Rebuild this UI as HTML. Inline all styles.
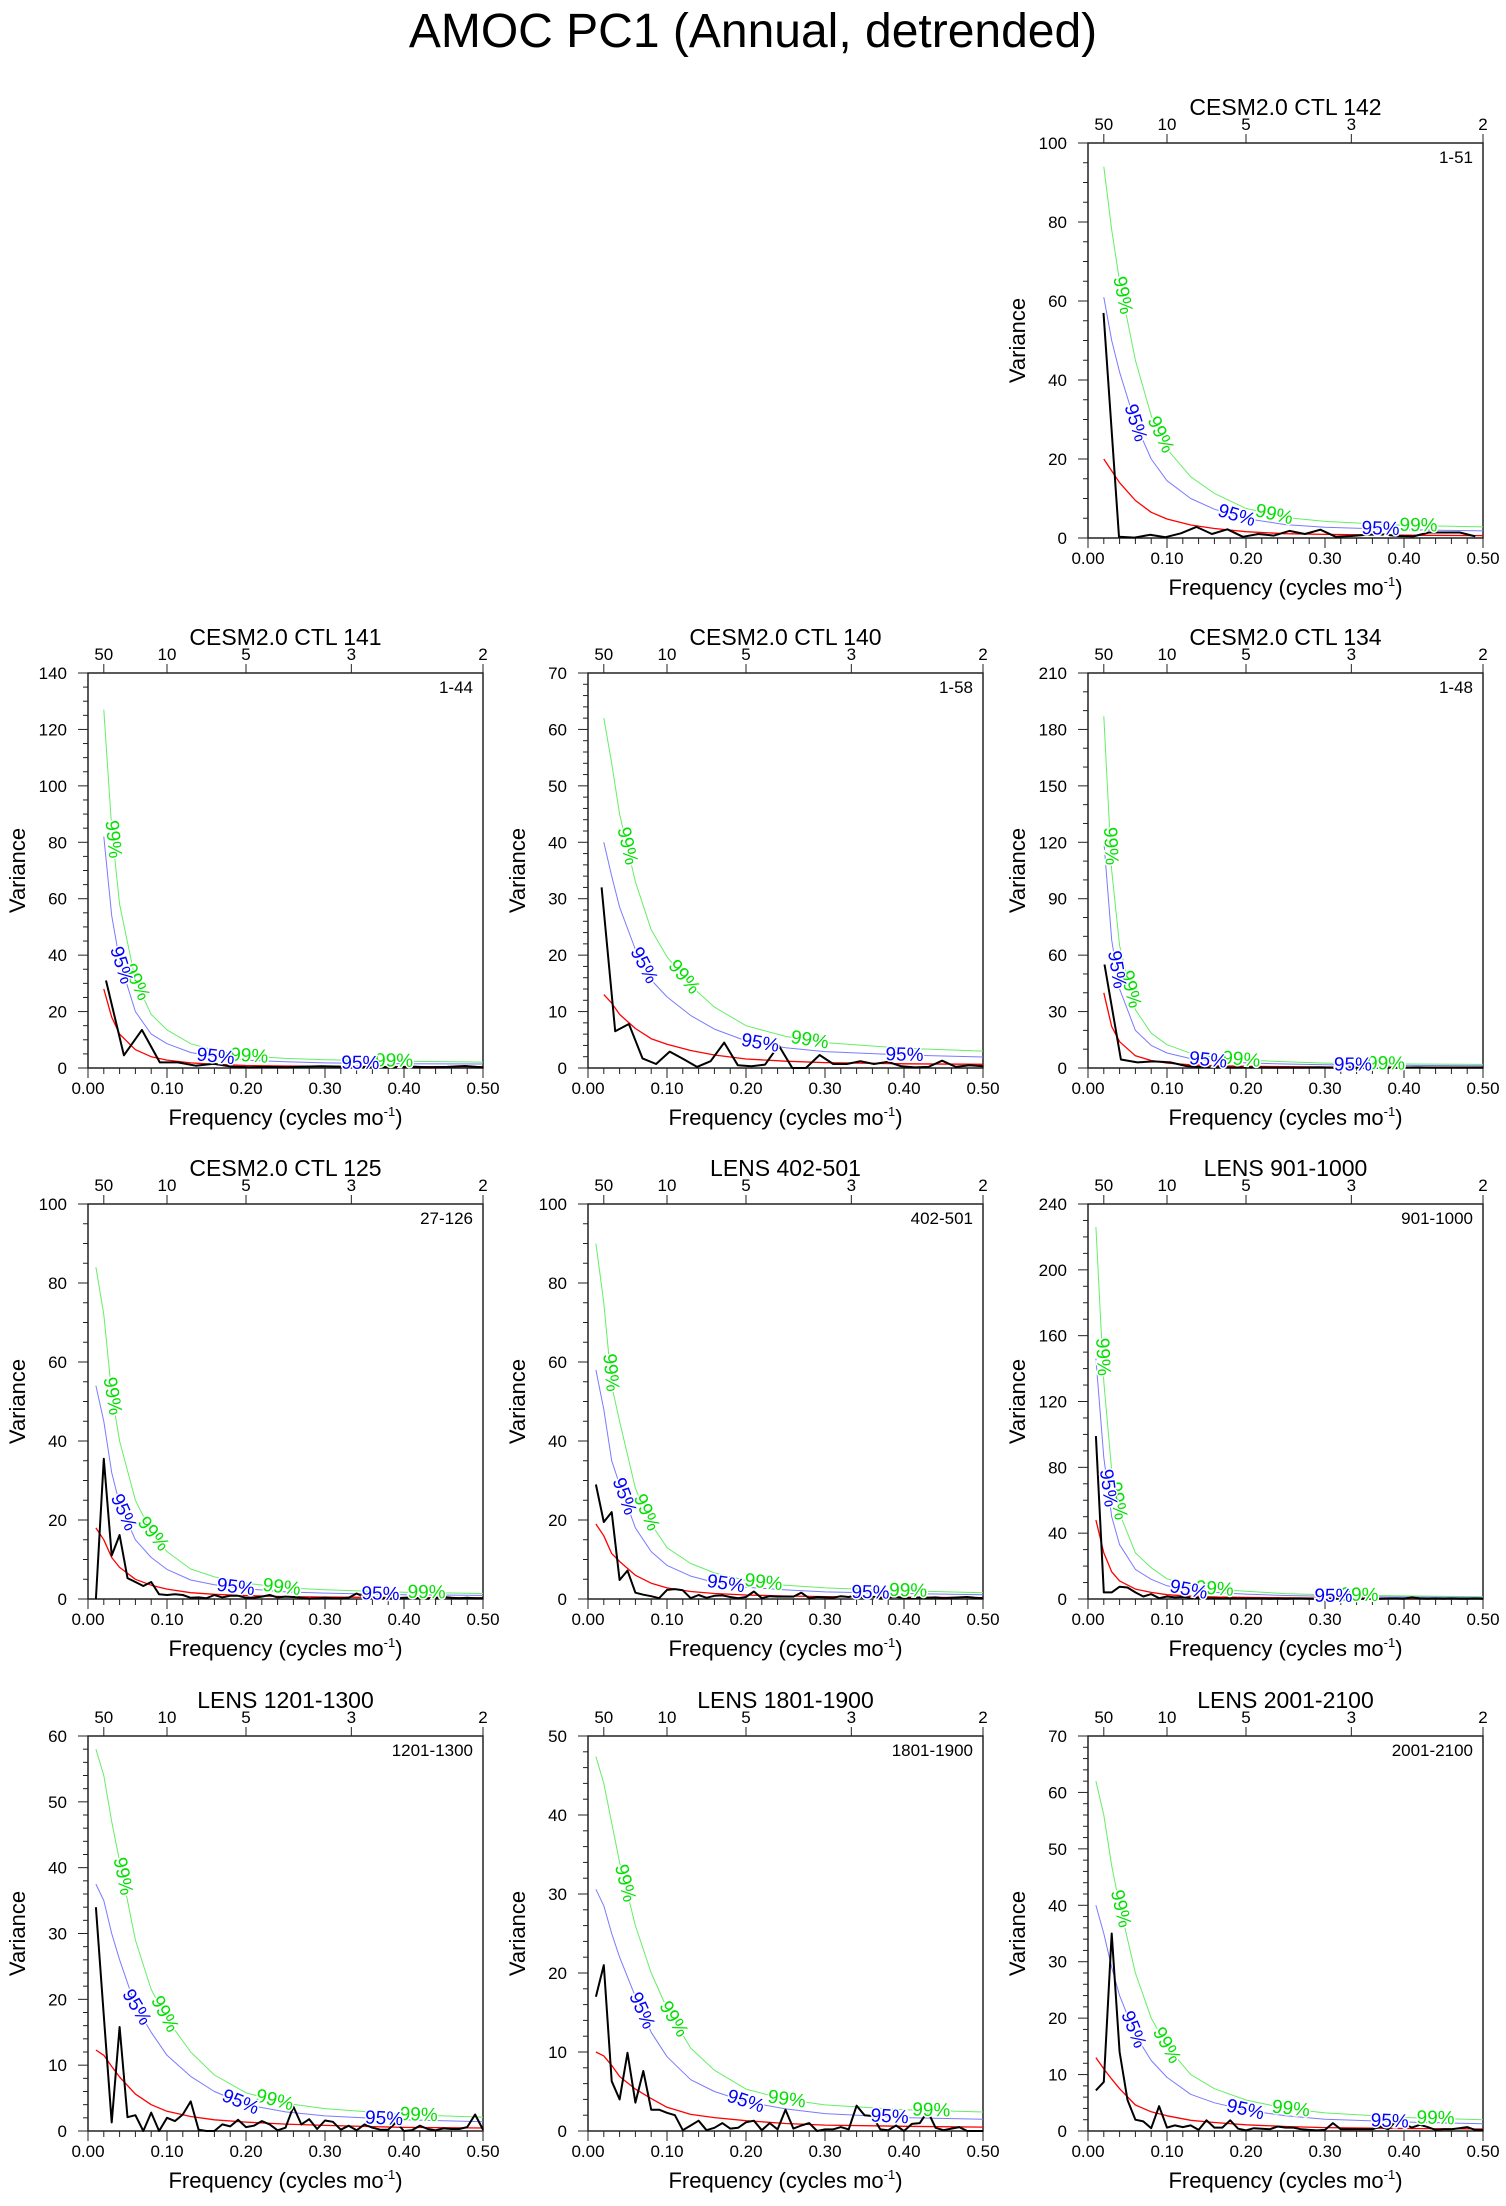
<!DOCTYPE html>
<html>
<head>
<meta charset="utf-8">
<style>
  html,body{margin:0;padding:0;background:#fff;}
  body{width:1506px;height:2201px;overflow:hidden;font-family:"Liberation Sans",sans-serif;}
  svg text{font-family:"Liberation Sans",sans-serif;}
</style>
</head>
<body>
<svg id="chart" width="1506" height="2201" viewBox="0 0 1506 2201" xmlns="http://www.w3.org/2000/svg">
  <text x="753" y="47" font-size="48" text-anchor="middle" fill="#000">AMOC PC1 (Annual, detrended)</text>
  <g id="panels"></g>
</svg>
<script>
// Shared frequency grid for red-noise / significance curves
const curveFreq = [0.01,0.02,0.03,0.04,0.06,0.08,0.10,0.13,0.16,0.20,0.25,0.30,0.40,0.50];
const xTickLabels = ["0.00","0.10","0.20","0.30","0.40","0.50"];
const xTickValues = [0,0.1,0.2,0.3,0.4,0.5];
const periodLabels = ["50","10","5","3","2"];
const periodValues = [50,10,5,3,2];

// CESM2.0 CTL 142
const p142_black = [57,0.3,0.1,0.8,0.2,1.2,2.8,1,2.2,0.3,1,0.6,1.8,1,2.1,0.3,0.5,0.8,0.9,0.5,0.4,1.4,1.4,1.4,0.4];
const p142_red = [null,20,17,14,9.5,6.5,4.8,3.3,2.4,1.6,1.1,0.9,0.7,0.6];
const p142_c95 = [null,61,50,42,29,20,14.5,10,7.3,4.9,3.4,2.7,2.1,1.8];
const p142_c99 = [null,94,78,65,45,31,22.5,15.5,11.3,7.5,5.2,4.2,3.2,2.8];
// CESM2.0 CTL 141
const p141_black = [31,4.5,13.5,2,2,0.8,1.5,0.5,0.3,0.4,0.3,0.5,0.6,0.5,0.3,0.4,0.3,0.5,0.3,0.4,0.7,0.2];
const p141_red = [null,28,18,12,6.5,4,2.8,1.8,1.3,0.9,0.7,0.6,0.5,0.45];
const p141_c95 = [null,82,54,38,20,12,8.6,5.5,4,2.8,2.2,1.8,1.5,1.4];
const p141_c99 = [null,127,85,58,31,19,13.5,8.6,6.3,4.3,3.4,2.9,2.4,2.1];
// CESM2.0 CTL 140
const p140_black = [32,6.5,7.8,1.7,0.7,2.9,1.6,0.2,1.2,4.5,0.5,0.3,0.6,4,0,0,2.3,0.7,0.7,1.2,0.7,1.1,0.3,0.1,0.2,1.3,0.2,0.5,0.3];
const p140_red = [null,13,11.5,9.5,7,5.2,4.2,3.1,2.3,1.6,1.2,0.95,0.75,0.65];
const p140_c95 = [null,40,34,28.5,21,15.6,12.6,9.3,6.9,4.8,3.6,2.9,2.3,1.95];
const p140_c99 = [null,62,54,45,33,24.5,19.7,14.6,10.8,7.5,5.6,4.5,3.5,3.0];
// CESM2.0 CTL 134
const p134_black = [55,4.5,3,3.5,3,1,0.5,0.3,0.2,0.3,0.2,0.2,0.2,0.3,0.2,0.2,0.3,0.2,0.2,0.3,0.2,0.2,0.2,0.2];
const p134_red = [null,40,22,14,6.5,4,2.6,1.7,1.2,0.9,0.7,0.55,0.45,0.4];
const p134_c95 = [null,121,68,42,20,12,8,5,3.7,2.7,2.1,1.7,1.4,1.2];
const p134_c99 = [null,187,105,65,31,18.5,12.4,7.8,5.7,4.2,3.3,2.6,2.1,1.9];
// CESM2.0 CTL 125
const p125_black = [0,35.5,11,16.2,5.3,4.3,3.3,4.3,1.2,1,1.2,1,0.3,0.4,0.2,1,0.4,0.8,0.8,0.3,0.3,0.6,1,0.4,0.6,0.5,0.3,0.1,0.2,0.3,0.2,0.2,0.3,1.4,0.5,0.3,0.2,0.1,0.2,0.3,0.4,0.2,0.1,0.3,0.5,0.3,0.2,0.3,0.2,0.2];
const p125_red = [18,15,10.5,8,5,3.5,2.5,1.6,1.2,0.85,0.6,0.5,0.35,0.3];
const p125_c95 = [54,45,32,24,15,10.5,7.5,4.8,3.6,2.6,1.8,1.5,1.1,0.9];
const p125_c99 = [84,72,52,40,25,17,12,7.6,5.6,4,2.8,2.35,1.7,1.4];
// LENS 402-501
const p402_black = [29,19.5,22,4.8,7.2,1.6,1.1,0.7,0.2,2.3,2.5,2.2,0.2,1,0.3,0.8,0.9,0.5,0.2,0.5,1.9,0.2,0.7,0.6,0.6,0.6,1.6,0.2,0.5,0.4,0.3,0.7,0.5,0.9,0.2,0.6,0.3,0.4,0.5,0.3,0.2,0.4,0.3,0.4,0.2,0.3,0.4,0.5,0.3,0.2];
const p402_red = [19,16,11.5,9.5,6,4,2.8,1.9,1.4,1.0,0.75,0.6,0.45,0.35];
const p402_c95 = [58,48,35,29,18,12,8.5,5.8,4.2,3,2.3,1.8,1.4,1.1];
const p402_c99 = [90,75,54,45,28,19,13,9,6.6,4.7,3.5,2.8,2.1,1.6];
// LENS 901-1000
const p901_black = [99,4,4,7.5,7,4,1.5,3,0.5,1.5,1,1.2,0.8,0.6,0.5,0.5,0.3,0.4,0.3,0.3,0.3,0.3,0.2,0.3,0.2,0.3,0.3,0.2,0.2,0.3,0.2,0.3,0.3,0.2,0.2,0.3,0.2,0.3,0.3,0.2,1,0.3,0.2,0.3,0.2,0.3,0.2,0.2,0.3,0.2];
const p901_red = [48,28,16.5,11,6,4,2.6,1.7,1.3,1,0.7,0.55,0.4,0.3];
const p901_c95 = [146,86,50,33,18,12,8,5.2,4,3,2.1,1.7,1.2,0.9];
const p901_c99 = [226,132,78,52,28,19,12.3,8,6.1,4.7,3.3,2.6,1.9,1.4];
// LENS 1201-1300
const p1201_black = [34,17.5,1.3,15.8,2.1,2.4,0,2.8,0,2,1.5,2.5,4.5,0.2,0,0,1,0.7,1.7,0.6,0.8,1.5,1,0.1,0.5,3.7,1,1.8,0.3,1.6,1.4,0.2,0.8,0.1,1,0.5,0.2,0.2,1.3,0,0.1,0.8,0.3,0.1,0.4,0.3,0.3,0.6,2.5,0.2];
const p1201_red = [12.3,11.5,9.8,8.2,5.6,4,3.0,2.2,1.7,1.35,1.05,0.85,0.55,0.45];
const p1201_c95 = [37.5,35,30,26,19,15,11.5,8.3,6,4,2.9,2.3,1.7,1.4];
const p1201_c99 = [58,54,47,41,29,21.5,17,12,8.5,5.8,4.2,3.4,2.5,2.1];
// LENS 1801-1900
const p1801_black = [17,21,6.3,4,9.9,3.6,7.6,2.7,2.7,2.3,2,0.1,0.7,1.3,0.1,0.4,1,0.3,0.4,1.1,1.3,0.1,1,0.2,2.7,0.3,0.7,1,0,0.2,0.2,0.5,0.2,3.2,2,1.9,0.2,0.1,0.7,0,0.9,1,2.5,0.4,0.1,0.3,0.5,0,0,0];
const p1801_red = [10,9.5,8.3,6.9,5.3,4.1,3,2.1,1.7,1.3,0.95,0.75,0.6,0.5];
const p1801_c95 = [30.6,28.5,25,22,17,12.5,9.4,6.5,5,3.7,2.8,2.2,1.7,1.5];
const p1801_c99 = [47.4,44,39,34,26,20,15.5,10.5,7.7,5.3,4,3.3,2.7,2.4];
// LENS 2001-2100
const p2001_black = [7.2,8.7,35,14,5.5,2,1.7,0.5,4.4,0.6,1,0.7,1,0.2,1.9,0.6,0.6,1.9,0.4,0.1,0.5,0.4,0.3,0.8,0.6,0.6,0.3,0.2,0.1,0.2,1.4,0.3,0.3,0.3,0.3,0.3,0.8,0.3,1.8,1.3,0.6,1.1,0.7,0.2,0.3,0.3,0.5,0.7,0.2,0.2];
const p2001_red = [13,11,9.2,7.5,4.6,3.4,2.7,1.9,1.5,1.1,0.8,0.6,0.45,0.35];
const p2001_c95 = [40,35,29,24,17,12.5,9.5,6.5,5,3.7,2.7,2.1,1.6,1.3];
const p2001_c99 = [62,56,47,40,28,20,15,10,7.5,5.5,4,3.2,2.4,2];

const panels = [
  {id:"ctl-142", title:"CESM2.0 CTL 142", range:"1-51", col:2,row:0, ymax:100, major:20, minor:5, years:51, black:p142_black, red:p142_red, c95:p142_c95, c99:p142_c99},
  {id:"ctl-141", title:"CESM2.0 CTL 141", range:"1-44", col:0,row:1, ymax:140, major:20, minor:5, years:44, black:p141_black, red:p141_red, c95:p141_c95, c99:p141_c99},
  {id:"ctl-140", title:"CESM2.0 CTL 140", range:"1-58", col:1,row:1, ymax:70, major:10, minor:2, years:58, black:p140_black, red:p140_red, c95:p140_c95, c99:p140_c99},
  {id:"ctl-134", title:"CESM2.0 CTL 134", range:"1-48", col:2,row:1, ymax:210, major:30, minor:10, years:48, black:p134_black, red:p134_red, c95:p134_c95, c99:p134_c99},
  {id:"ctl-125", title:"CESM2.0 CTL 125", range:"27-126", col:0,row:2, ymax:100, major:20, minor:5, years:100, black:p125_black, red:p125_red, c95:p125_c95, c99:p125_c99},
  {id:"lens-402", title:"LENS 402-501", range:"402-501", col:1,row:2, ymax:100, major:20, minor:5, years:100, black:p402_black, red:p402_red, c95:p402_c95, c99:p402_c99},
  {id:"lens-901", title:"LENS 901-1000", range:"901-1000", col:2,row:2, ymax:240, major:40, minor:10, years:100, black:p901_black, red:p901_red, c95:p901_c95, c99:p901_c99},
  {id:"lens-1201", title:"LENS 1201-1300", range:"1201-1300", col:0,row:3, ymax:60, major:10, minor:2, years:100, black:p1201_black, red:p1201_red, c95:p1201_c95, c99:p1201_c99},
  {id:"lens-1801", title:"LENS 1801-1900", range:"1801-1900", col:1,row:3, ymax:50, major:10, minor:2, years:100, black:p1801_black, red:p1801_red, c95:p1801_c95, c99:p1801_c99},
  {id:"lens-2001", title:"LENS 2001-2100", range:"2001-2100", col:2,row:3, ymax:70, major:10, minor:2, years:100, black:p2001_black, red:p2001_red, c95:p2001_c95, c99:p2001_c99}
];

const NS = "http://www.w3.org/2000/svg";
const colLeft = [88,588,1088], rowTop = [143,673,1204,1736], PW = 395, PH = 395;
const root = document.getElementById('panels');

function mk(tag, attrs, parent){
  const e = document.createElementNS(NS, tag);
  for (const k in attrs) e.setAttribute(k, attrs[k]);
  parent.appendChild(e);
  return e;
}

function drawCurveLabels(g, pts, label, color, panelId, series){
  const seg = [];
  let T = 0;
  for (let i=1;i<pts.length;i++){
    const d = Math.hypot(pts[i][0]-pts[i-1][0], pts[i][1]-pts[i-1][1]);
    seg.push(d); T += d;
  }
  for (let s=130; s < T-30; s+=145){
    let acc=0, i=0;
    while (i<seg.length && acc+seg[i] < s){ acc+=seg[i]; i++; }
    if (i>=seg.length) break;
    const t = (s-acc)/seg[i];
    const x = pts[i][0] + t*(pts[i+1][0]-pts[i][0]);
    const y = pts[i][1] + t*(pts[i+1][1]-pts[i][1]);
    const ang = Math.atan2(pts[i+1][1]-pts[i][1], pts[i+1][0]-pts[i][0])*180/Math.PI;
    const tx = mk('text', {x:x, y:y, 'font-size':19, fill:color, 'text-anchor':'middle', 'dominant-baseline':'central',
      transform:`rotate(${ang.toFixed(1)} ${x.toFixed(1)} ${y.toFixed(1)})`, stroke:'#fff', 'stroke-width':3, 'paint-order':'stroke'}, g);
    
    
    tx.textContent = label;
  }
}

panels.forEach(p => {
  const L = colLeft[p.col], T = rowTop[p.row], R = L+PW, B = T+PH;
  const xs = f => L + f/0.5*PW;
  const ys = v => B - v/p.ymax*PH;
  const g = mk('g', {}, root);
  
  

  const fr = mk('rect', {x:L, y:T, width:PW, height:PH, fill:'none', stroke:'#222', 'stroke-width':1.5}, g);
  
  

  const yAxis = mk('g', {}, g);
  
  
  for (let v=0; v<=p.ymax+1e-9; v+=p.minor){
    const isMajor = Math.abs(v/p.major - Math.round(v/p.major)) < 1e-6;
    mk('line', {x1:L-(isMajor?10:5), x2:L, y1:ys(v), y2:ys(v), stroke:'#222', 'stroke-width':1}, yAxis);
    if (isMajor){
      const t = mk('text', {x:L-21, y:ys(v)+6, 'font-size':17, 'text-anchor':'end', fill:'#000'}, yAxis);
      
      
      t.textContent = String(Math.round(v));
    }
  }
  const xAxis = mk('g', {}, g);
  
  
  for (let k=0; k<=25; k++){
    const f = k*0.02;
    const isMajor = k%5===0;
    mk('line', {x1:xs(f), x2:xs(f), y1:B, y2:B+(isMajor?10:6), stroke:'#222', 'stroke-width':1}, xAxis);
  }
  xTickValues.forEach((f,i) => {
    const t = mk('text', {x:xs(f), y:B+26, 'font-size':17, 'text-anchor':'middle', fill:'#000'}, xAxis);
    
    
    t.textContent = xTickLabels[i];
  });
  const pAxis = mk('g', {}, g);
  
  
  periodValues.forEach((per,i) => {
    const x = xs(1/per);
    mk('line', {x1:x, x2:x, y1:T-9, y2:T, stroke:'#222', 'stroke-width':1}, pAxis);
    const t = mk('text', {x:x, y:T-13, 'font-size':17, 'text-anchor':'middle', fill:'#000'}, pAxis);
    
    
    t.textContent = periodLabels[i];
  });

  const tt = mk('text', {x:L+PW/2, y:T-28, 'font-size':23, 'text-anchor':'middle', fill:'#000'}, g);
  
  
  tt.textContent = p.title;
  const rl = mk('text', {x:R-10, y:T+20, 'font-size':17, 'text-anchor':'end', fill:'#000'}, g);
  
  
  rl.textContent = p.range;
  const xt = mk('text', {x:L+PW/2, y:B+57, 'font-size':22, 'text-anchor':'middle', fill:'#000'}, g);
  
  
  xt.innerHTML = 'Frequency (cycles mo<tspan dy="-9" font-size="13">-1</tspan><tspan dy="9">)</tspan>';
  const yt = mk('text', {x:L-63, y:T+PH/2, 'font-size':22, 'text-anchor':'middle', fill:'#000', transform:`rotate(-90 ${L-63} ${T+PH/2})`}, g);
  
  
  yt.textContent = 'Variance';

  const curvePts = arr => {
    const pts = [];
    arr.forEach((v,i) => { if (v!==null) pts.push([xs(curveFreq[i]), ys(v)]); });
    return pts;
  };
  const toStr = pts => pts.map(q => q[0].toFixed(1)+','+q[1].toFixed(1)).join(' ');
  const series = [
    {key:'c99', arr:p.c99, stroke:'#66ee66', w:1, lab:'99%', lc:'#00e000'},
    {key:'c95', arr:p.c95, stroke:'#7a7aff', w:1, lab:'95%', lc:'#0000ff'},
    {key:'red-noise', arr:p.red, stroke:'#ff0000', w:1.3}
  ];
  series.forEach(s => {
    const pts = curvePts(s.arr);
    const pl = mk('polyline', {points:toStr(pts), fill:'none', stroke:s.stroke, 'stroke-width':s.w, 'stroke-linejoin':'round'}, g);
    
    
  });
  const step = 1/p.years;
  const bpts = p.black.map((v,i) => [xs((i+1)*step), ys(v)]);
  const bl = mk('polyline', {points:toStr(bpts), fill:'none', stroke:'#000', 'stroke-width':2, 'stroke-linejoin':'round'}, g);
  
  
  series.slice(0,2).forEach(s => drawCurveLabels(g, curvePts(s.arr), s.lab, s.lc, p.id, s.key));
});
</script>
</body>
</html>
